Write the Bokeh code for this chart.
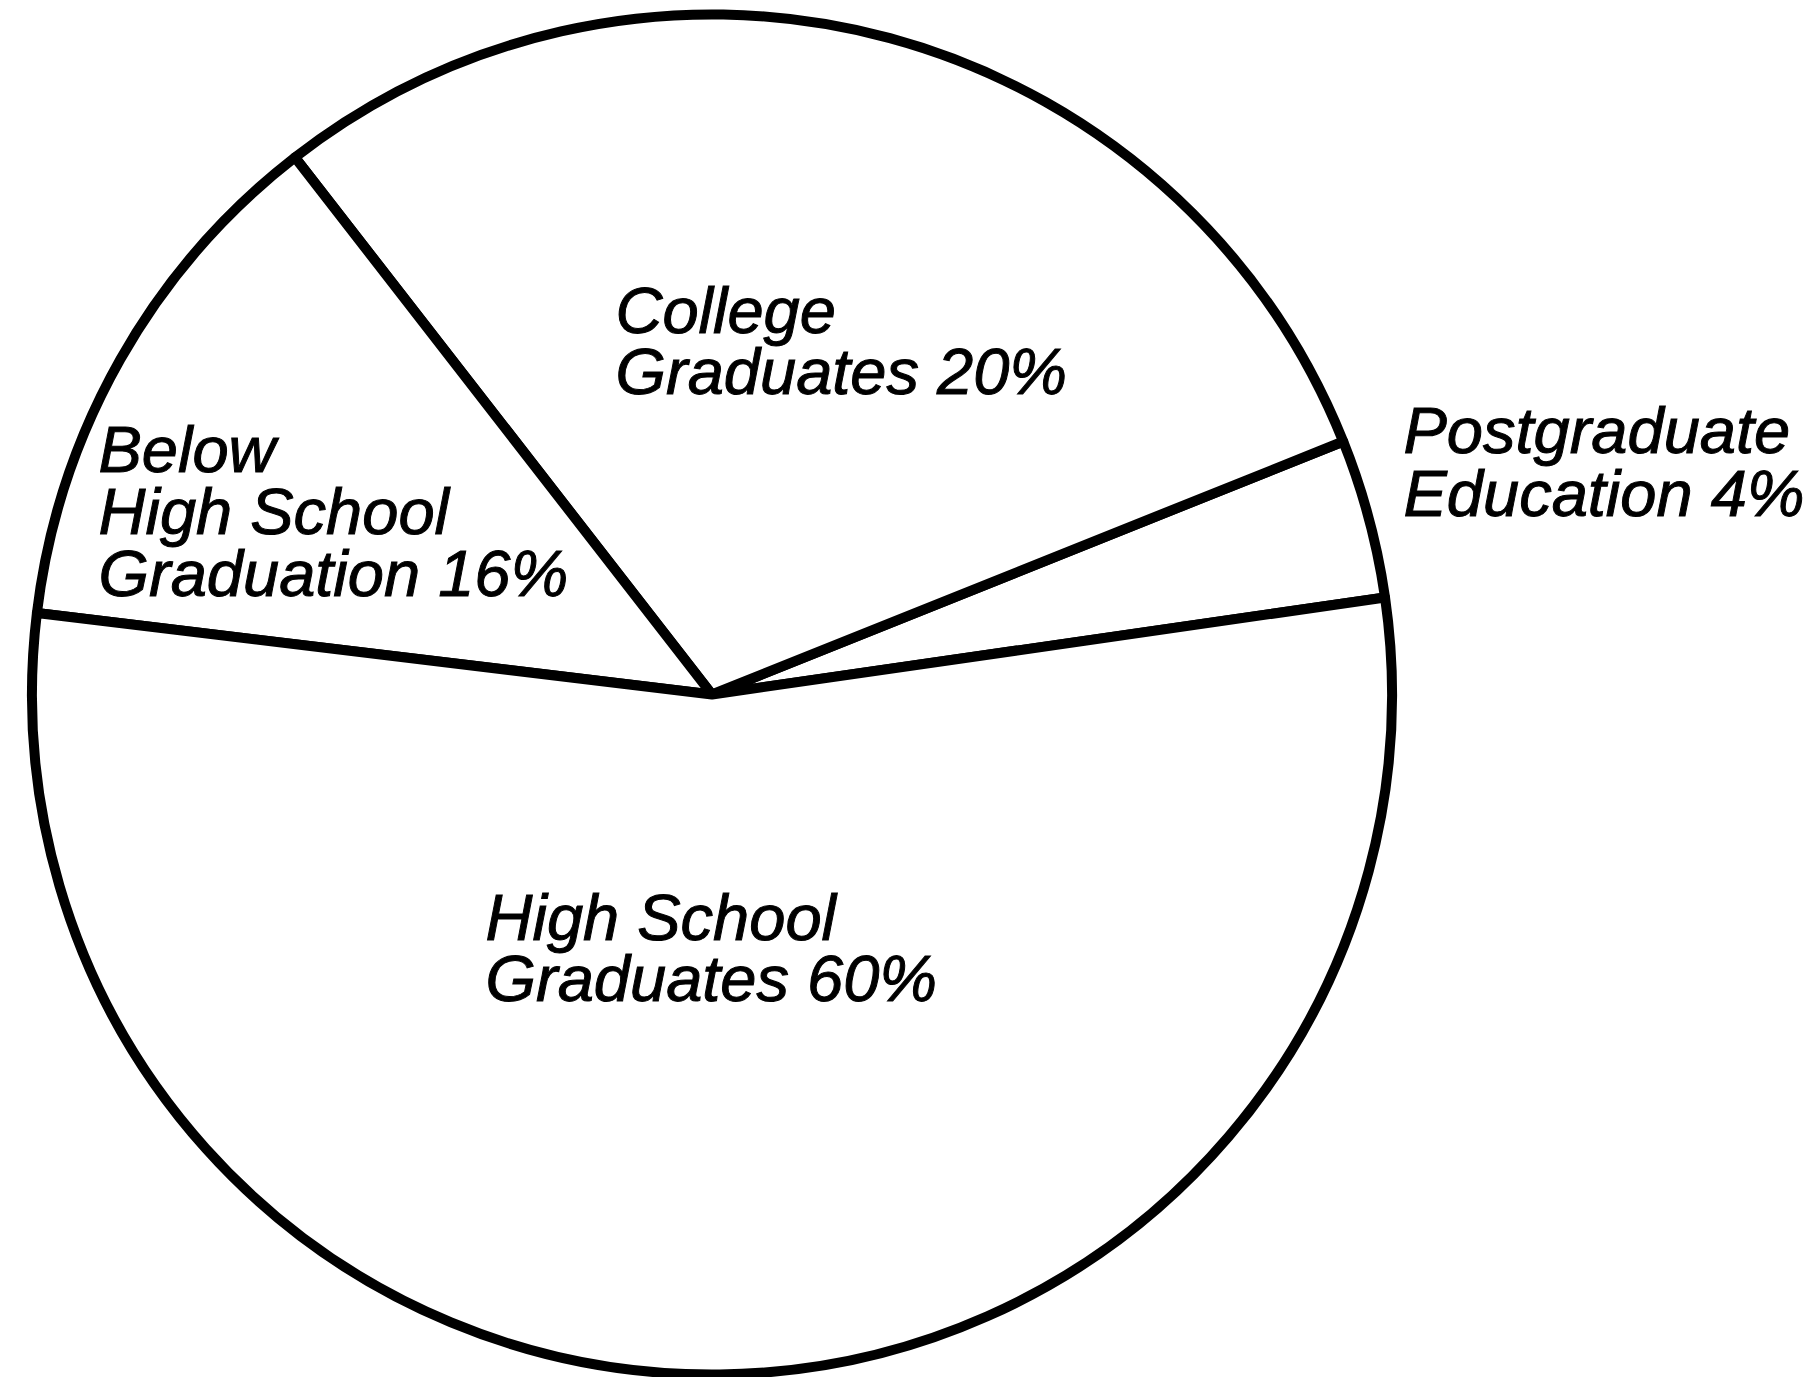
import numpy as np
from bokeh.plotting import figure
from bokeh.models import Range1d, ColumnDataSource
from bokeh.core.properties import value
from bokeh.embed import file_html
from bokeh.resources import INLINE

# ---- data ----
categories = ["Postgraduate Education", "College Graduates",
              "Below High School Graduation", "High School Graduates"]
label_pct = [4, 20, 16, 60]                      # percentages printed on the chart
drawn_share = [3.79, 29.44, 12.58, 54.19]        # share of the circle as actually drawn (%)
label_head = [["Postgraduate", "Education"],
              ["College", "Graduates"],
              ["Below", "High School", "Graduation"],
              ["High School", "Graduates"]]

# ---- layout (screen pixels of the 1804x1377 page) ----
W, H = 1804, 1377
start_deg = 8.20
center_px = (711.5, 694.0)
radius_px = 680
label_anchor_px = [(1403, 430), (615, 310), (98, 449), (485, 917)]   # left x, first line y
label_spacing_px = [63, 61, 62, 61]

def to_data_y(Y):
    return H - Y

p = figure(width=W, height=H, output_backend="svg", toolbar_location=None,
           x_range=Range1d(0, W), y_range=Range1d(0, H),
           x_axis_type=None, y_axis_type=None, min_border=0)
p.grid.visible = False
p.outline_line_color = None
p.background_fill_color = "white"
p.border_fill_color = "white"

cum = np.cumsum([0] + drawn_share)
start = np.radians(start_deg) + cum[:-1] / 100.0 * 2 * np.pi
end = np.radians(start_deg) + cum[1:] / 100.0 * 2 * np.pi
src = ColumnDataSource(dict(cat=categories, start=start, end=end,
                            x=[center_px[0]] * len(categories),
                            y=[to_data_y(center_px[1])] * len(categories)))
p.wedge(x="x", y="y", radius=radius_px, start_angle="start", end_angle="end",
        fill_color="white", line_color="black", line_width=10, line_join="round",
        source=src)

tx, ty, tt = [], [], []
for head, pct, (ax, ay), sp in zip(label_head, label_pct, label_anchor_px, label_spacing_px):
    lines = list(head)
    lines[-1] = f"{lines[-1]} {pct}%"
    for i, ln in enumerate(lines):
        tx.append(ax)
        ty.append(to_data_y(ay + i * sp))
        tt.append(ln)

p.text(x=tx, y=ty, text=tt, text_font=value("Liberation Sans"), text_font_style="italic",
       text_font_size="65px", text_color="black", text_outline_color="black",
       text_align="left", text_baseline="alphabetic")

open("out.html", "w").write(file_html(p, INLINE))
